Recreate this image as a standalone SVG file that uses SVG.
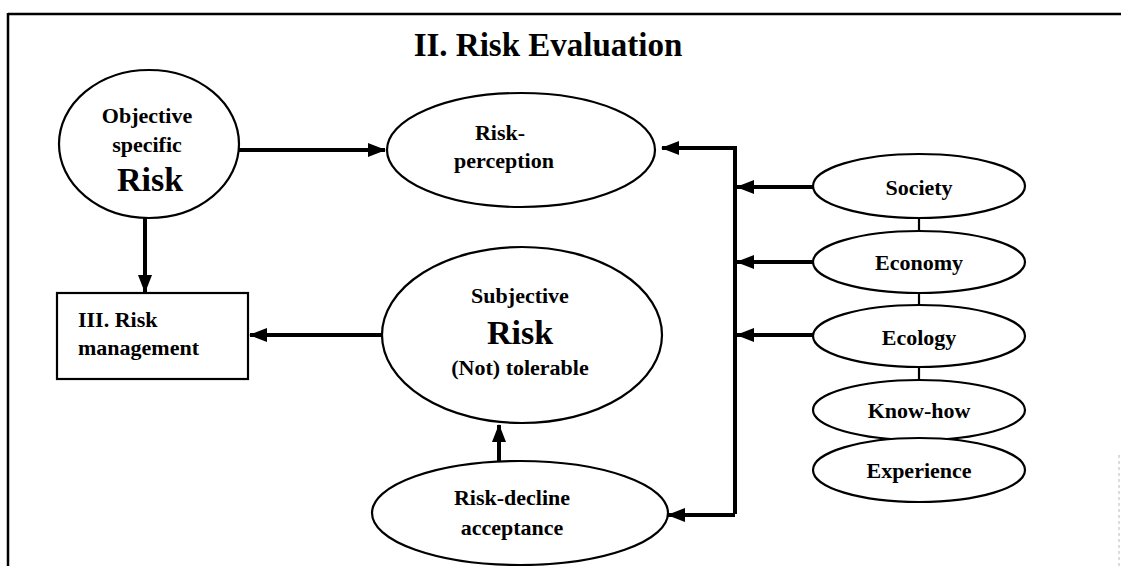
<svg xmlns="http://www.w3.org/2000/svg" width="1121" height="566" viewBox="0 0 1121 566">
<style>
text{font-family:"Liberation Serif","Times New Roman",serif;font-weight:bold;fill:#000;text-anchor:middle}
.n{fill:#fff;stroke:#000;stroke-width:2.2}
.t{font-size:22px}
.big{font-size:34px}
.c{stroke:#000;stroke-width:4;fill:none}
.thin{stroke:#000;stroke-width:2.2;fill:none}
</style>
<defs>
<marker id="ah" markerUnits="userSpaceOnUse" markerWidth="18" markerHeight="14" refX="17" refY="7" orient="auto">
<path d="M0,0 L18,7 L0,14 Z" fill="#000"/>
</marker>
</defs>
<rect width="1121" height="566" fill="#fff"/>
<g id="frame">
<line x1="8" y1="14" x2="1121" y2="14" stroke="#000" stroke-width="2.5"/>
<line x1="8" y1="13" x2="8" y2="566" stroke="#000" stroke-width="2.5"/>
<line x1="1119" y1="455" x2="1119" y2="566" stroke="#bbb" stroke-width="1" stroke-dasharray="3,3"/>
</g>
<text id="title" x="548" y="56" style="font-size:33px">II. Risk Evaluation</text>
<g id="connectors">
<line class="c" x1="239" y1="150" x2="385" y2="150" marker-end="url(#ah)"/>
<line class="c" x1="145" y1="218" x2="145" y2="292" marker-end="url(#ah)"/>
<line class="c" x1="382" y1="335" x2="250" y2="335" marker-end="url(#ah)"/>
<line class="c" x1="499" y1="462" x2="499" y2="425" marker-end="url(#ah)"/>
<polyline class="c" points="735,514 735,148 662,148" marker-end="url(#ah)"/>
<line class="c" x1="735" y1="515" x2="668" y2="515" marker-end="url(#ah)"/>
<line class="c" x1="813" y1="187" x2="737" y2="187" marker-end="url(#ah)"/>
<line class="c" x1="813" y1="262" x2="737" y2="262" marker-end="url(#ah)"/>
<line class="c" x1="813" y1="335" x2="737" y2="335" marker-end="url(#ah)"/>
<line class="thin" x1="919" y1="218" x2="919" y2="230"/>
<line class="thin" x1="919" y1="293" x2="919" y2="305"/>
<line class="thin" x1="919" y1="367" x2="919" y2="380"/>
</g>
<g id="objective">
<ellipse class="n" cx="149" cy="144" rx="90" ry="74"/>
<text class="t" x="147" y="123">Objective</text>
<text class="t" x="147" y="152">specific</text>
<text class="big" x="150" y="191">Risk</text>
</g>
<g id="perception">
<ellipse class="n" cx="521" cy="150" rx="134" ry="57"/>
<text class="t" x="500" y="140">Risk-</text>
<text class="t" x="504" y="168">perception</text>
</g>
<g id="management">
<rect class="n" x="57" y="293" width="191" height="86"/>
<text class="t" x="78" y="327" style="text-anchor:start">III. Risk</text>
<text class="t" x="78" y="355" style="text-anchor:start">management</text>
</g>
<g id="subjective">
<ellipse class="n" cx="522" cy="335" rx="140" ry="88"/>
<text class="t" x="520" y="303">Subjective</text>
<text class="big" x="520" y="344">Risk</text>
<text class="t" x="520" y="375">(Not) tolerable</text>
</g>
<g id="decline">
<ellipse class="n" cx="520" cy="513" rx="148" ry="52"/>
<text class="t" x="512" y="505">Risk-decline</text>
<text class="t" x="512" y="535">acceptance</text>
</g>
<g id="society">
<ellipse class="n" cx="919" cy="186" rx="106" ry="32"/>
<text class="t" x="919" y="195">Society</text>
</g>
<g id="economy">
<ellipse class="n" cx="919" cy="262" rx="106" ry="31"/>
<text class="t" x="919" y="270">Economy</text>
</g>
<g id="ecology">
<ellipse class="n" cx="919" cy="336" rx="106" ry="31"/>
<text class="t" x="919" y="345">Ecology</text>
</g>
<g id="knowhow">
<ellipse class="n" cx="919" cy="410" rx="106" ry="30"/>
<text class="t" x="919" y="418">Know-how</text>
</g>
<g id="experience">
<ellipse class="n" cx="919" cy="470" rx="106" ry="32"/>
<text class="t" x="919" y="478">Experience</text>
</g>
</svg>
